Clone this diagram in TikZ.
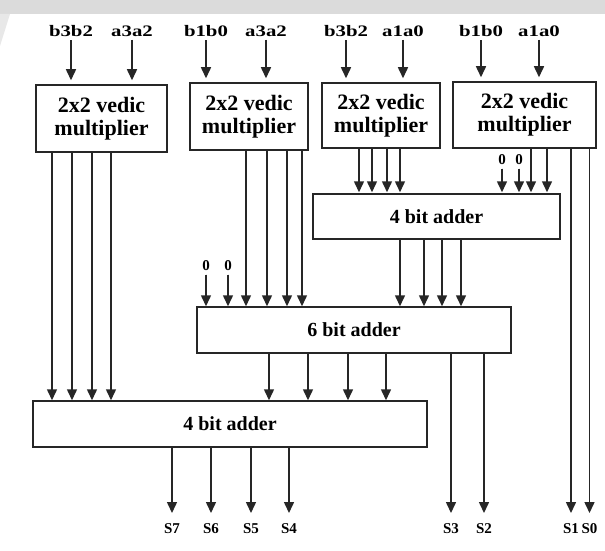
\documentclass[tikz,border=0pt]{standalone}
\usepackage{fontspec}
\setmainfont{Liberation Serif}
\newfontfamily\lblfont{Liberation Serif}[FakeStretch=1.3]
\usetikzlibrary{arrows.meta}
\begin{document}
\begin{tikzpicture}[x=1pt,y=-1pt,
  box/.style={draw,line width=1.5pt,align=center,inner sep=0pt,draw=black!85},
  multtext/.style={font=\bfseries\fontsize{22}{23}\selectfont},
  addtext/.style={font=\bfseries\fontsize{20}{22}\selectfont},
  inlbl/.style={font=\lblfont\bfseries\fontsize{16}{16}\selectfont},
  zerolbl/.style={font=\bfseries\fontsize{15}{15}\selectfont},
  outlbl/.style={font=\bfseries\fontsize{15}{15}\selectfont,inner sep=0pt,anchor=north},
  arr/.style={-{Triangle[width=10pt,length=11pt]},line width=1.5pt,draw=black!85,fill=black!85},
]
\useasboundingbox (0,0) rectangle (605,551);
\fill[white] (0,0) rectangle (605,551);
\fill[gray!28] (0,0) rectangle (605,14);
\fill[gray!18] (0,14) -- (10,14) -- (0,46) -- cycle;

% multipliers
\node[box,multtext,minimum width=131pt,minimum height=67pt] (m1) at (101.5,118.5) {2x2 vedic\\multiplier};
\node[box,multtext,minimum width=118pt,minimum height=67pt] (m2) at (249,116.5) {2x2 vedic\\multiplier};
\node[box,multtext,minimum width=118pt,minimum height=65pt] (m3) at (381,115.5) {2x2 vedic\\multiplier};
\node[box,multtext,minimum width=143pt,minimum height=66pt] (m4) at (524.5,115) {2x2 vedic\\multiplier};

% adders
\node[box,addtext,minimum width=247pt,minimum height=45pt] (A1) at (436.5,216.5) {4 bit adder};
\node[box,addtext,minimum width=314pt,minimum height=46pt] (A2) at (354,330) {6 bit adder};
\node[box,addtext,minimum width=394pt,minimum height=46pt] (A3) at (230,424) {4 bit adder};

% input labels
\node[inlbl] (l1) at (71,31) {b3b2};
\node[inlbl] (l2) at (132,31) {a3a2};
\node[inlbl] (l3) at (206,31) {b1b0};
\node[inlbl] (l4) at (266,31) {a3a2};
\node[inlbl] (l5) at (346,31) {b3b2};
\node[inlbl] (l6) at (403,31) {a1a0};
\node[inlbl] (l7) at (481,31) {b1b0};
\node[inlbl] (l8) at (539,31) {a1a0};
\foreach \l/\m in {l1/m1,l2/m1,l3/m2,l4/m2,l5/m3,l6/m3,l7/m4,l8/m4}
  \draw[arr,shorten >=4pt] (\l.south) -- (\l.south |- \m.north);

% zero inputs
\node[zerolbl] (z1) at (206,266) {0};
\node[zerolbl] (z2) at (228,266) {0};
\node[zerolbl] (z3) at (502,160) {0};
\node[zerolbl] (z4) at (519,160) {0};
\foreach \z in {z1,z2} \draw[arr] (\z.south) -- (\z.south |- A2.north);
\foreach \z in {z3,z4} \draw[arr,shorten >=1pt] (\z.south) -- (\z.south |- A1.north);

% multiplier outputs
\foreach \x in {52,72,92,111} \draw[arr] (m1.south -| \x,0) -- (A3.north -| \x,0);
\foreach \x in {246,267,287,302} \draw[arr] (m2.south -| \x,0) -- (A2.north -| \x,0);
\foreach \x in {359,372,387,400} \draw[arr,shorten >=1pt] (m3.south -| \x,0) -- (A1.north -| \x,0);
\foreach \x in {531,547} \draw[arr,shorten >=1pt] (m4.south -| \x,0) -- (A1.north -| \x,0);

% adder interconnects
\foreach \x in {400,424,442,461} \draw[arr] (A1.south -| \x,0) -- (A2.north -| \x,0);
\foreach \x in {269,308,348,386} \draw[arr] (A2.south -| \x,0) -- (A3.north -| \x,0);

% output labels
\node[outlbl] (s7) at (172,523) {S7};
\node[outlbl] (s6) at (211,523) {S6};
\node[outlbl] (s5) at (251,523) {S5};
\node[outlbl] (s4) at (289,523) {S4};
\node[outlbl] (s3) at (451,523) {S3};
\node[outlbl] (s2) at (484,523) {S2};
\node[outlbl] (s1) at (571,523) {S1};
\node[outlbl] (s0) at (589.5,523) {S0};
\foreach \s in {s7,s6,s5,s4} \draw[arr,shorten >=10pt] (A3.south -| \s) -- (\s.north);
\foreach \s in {s3,s2} \draw[arr,shorten >=10pt] (A2.south -| \s) -- (\s.north);
\foreach \s in {s1,s0} \draw[arr,shorten >=10pt] (m4.south -| \s) -- (\s.north);
\end{tikzpicture}
\end{document}
